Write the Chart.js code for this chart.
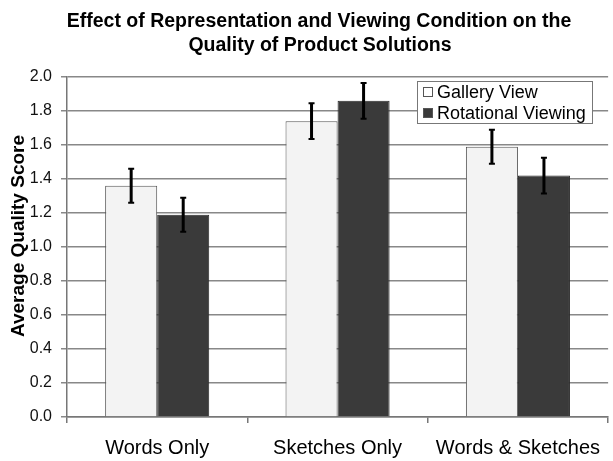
<!DOCTYPE html>
<html>
<head>
<meta charset="utf-8">
<script src="https://cdn.jsdelivr.net/npm/chart.js@4/dist/chart.umd.min.js"></script>
<style>
  html, body { margin: 0; padding: 0; background: #ffffff; }
  #wrap { width: 613px; height: 461px; }
</style>
</head>
<body>
<div id="wrap"><canvas id="c" width="613" height="461"></canvas></div>
<script>
// Categories and series
const categories = ['Words Only', 'Sketches Only', 'Words & Sketches'];
const seriesNames = ['Gallery View', 'Rotational Viewing'];
const galleryView = [1.36, 1.74, 1.59];
const rotationalViewing = [1.19, 1.86, 1.42];
const galleryErr = [0.10, 0.105, 0.10];
const rotationalErr = [0.10, 0.105, 0.105];
const yTicks = [0.0, 0.2, 0.4, 0.6, 0.8, 1.0, 1.2, 1.4, 1.6, 1.8, 2.0];

const titleLines = ['Effect of Representation and Viewing Condition on the', 'Quality of Product Solutions'];
const yTitle = 'Average Quality Score';

const FONT = "'Liberation Sans', Arial, sans-serif";

// Error bars drawn on top of each bar from the same values
const errorBars = {
  id: 'errorBars',
  afterDatasetsDraw(chart) {
    const ctx = chart.ctx;
    const y = chart.scales.y;
    chart.data.datasets.forEach((ds, di) => {
      const meta = chart.getDatasetMeta(di);
      meta.data.forEach((bar, i) => {
        const v = ds.data[i], e = ds.errors[i];
        const top = y.getPixelForValue(v + e);
        const bot = y.getPixelForValue(v - e);
        ctx.save();
        ctx.strokeStyle = '#000';
        ctx.lineWidth = 3;
        ctx.beginPath();
        ctx.moveTo(bar.x, top);
        ctx.lineTo(bar.x, bot);
        ctx.stroke();
        ctx.lineWidth = 2;
        ctx.beginPath();
        ctx.moveTo(bar.x - 3, top);
        ctx.lineTo(bar.x + 3, top);
        ctx.moveTo(bar.x - 3, bot);
        ctx.lineTo(bar.x + 3, bot);
        ctx.stroke();
        ctx.restore();
      });
    });
  }
};

// Title, rotated axis title and boxed legend
const decorations = {
  id: 'decorations',
  afterDraw(chart) {
    const ctx = chart.ctx;
    ctx.save();
    ctx.fillStyle = '#000';
    ctx.textAlign = 'center';
    ctx.textBaseline = 'alphabetic';
    ctx.font = 'bold 19.5px ' + FONT;
    ctx.fillText(titleLines[0], 319, 27);
    ctx.fillText(titleLines[1], 320, 51);

    ctx.save();
    ctx.translate(24, 236);
    ctx.rotate(-Math.PI / 2);
    ctx.font = 'bold 19px ' + FONT;
    ctx.fillText(yTitle, 0, 0);
    ctx.restore();

    // legend box
    const lx = 417.5, ly = 81.5, lw = 175, lh = 42;
    ctx.fillStyle = '#fff';
    ctx.fillRect(lx, ly, lw, lh);
    ctx.strokeStyle = '#777';
    ctx.lineWidth = 1;
    ctx.strokeRect(lx, ly, lw, lh);
    ctx.font = '18px ' + FONT;
    ctx.textAlign = 'left';
    const rows = [98, 119];
    chart.data.datasets.forEach((ds, i) => {
      const by = rows[i] - 10.5;
      ctx.fillStyle = i === 0 ? '#ffffff' : ds.backgroundColor;
      ctx.fillRect(423.5, by, 9, 9);
      ctx.strokeStyle = '#555';
      ctx.strokeRect(423.5, by, 9, 9);
      ctx.fillStyle = '#000';
      ctx.fillText(ds.label, 437, rows[i]);
    });
    ctx.restore();
  }
};

new Chart(document.getElementById('c'), {
  type: 'bar',
  data: {
    labels: categories,
    datasets: [
      {
        label: seriesNames[0],
        data: galleryView,
        errors: galleryErr,
        backgroundColor: '#f3f3f3',
        borderColor: '#555',
        borderWidth: 1,
        categoryPercentage: 0.577,
        barPercentage: 1.0
      },
      {
        label: seriesNames[1],
        data: rotationalViewing,
        errors: rotationalErr,
        backgroundColor: '#3a3a3a',
        borderColor: '#2a2a2a',
        borderWidth: 1,
        categoryPercentage: 0.577,
        barPercentage: 1.0
      }
    ]
  },
  options: {
    responsive: false,
    devicePixelRatio: 1,
    animation: false,
    layout: { padding: { top: 77, left: 0, right: 0, bottom: 0 } },
    plugins: {
      legend: { display: false },
      title: { display: false },
      tooltip: { enabled: false }
    },
    scales: {
      x: {
        offset: true,
        grid: { drawOnChartArea: false, offset: true, tickLength: 6, color: '#777', lineWidth: 1.5 },
        border: { color: '#777', width: 1.5 },
        ticks: { font: { family: FONT, size: 20 }, color: '#000', padding: 13, maxRotation: 0, autoSkip: false },
        afterFit(s) { s.height = 44; }
      },
      y: {
        min: 0,
        max: 2,
        afterBuildTicks(s) { s.ticks = yTicks.map(v => ({ value: v })); },
        grid: { color: '#888', lineWidth: 1.5, tickLength: 6 },
        border: { color: '#777', width: 1.5 },
        ticks: {
          font: { family: FONT, size: 16 },
          color: '#111',
          padding: 9,
          callback: v => Number(v).toFixed(1)
        },
        afterFit(s) { s.width = 67; }
      }
    }
  },
  plugins: [errorBars, decorations]
});
</script>
</body>
</html>
